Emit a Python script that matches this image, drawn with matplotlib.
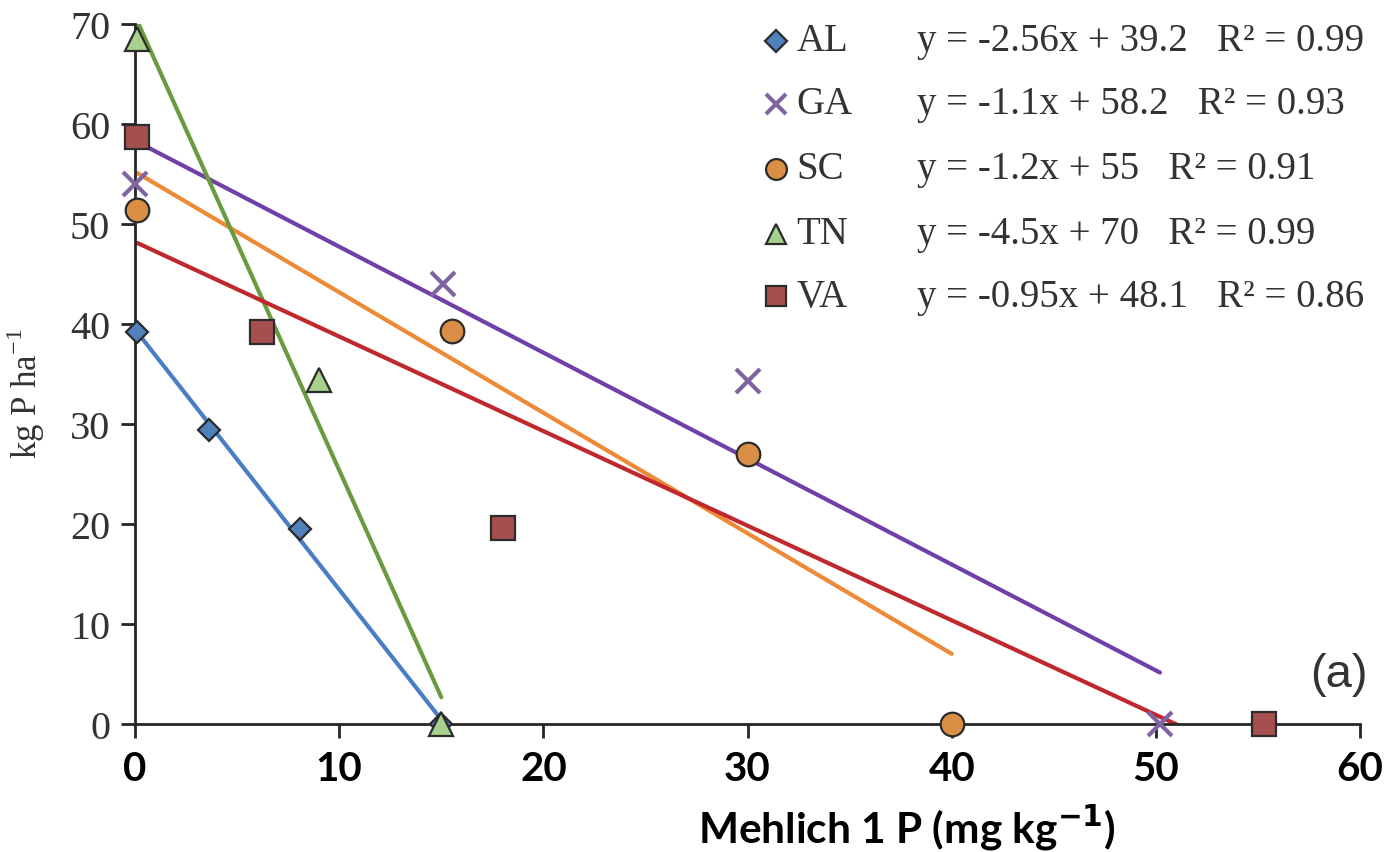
import numpy as np
import matplotlib
matplotlib.use("Agg")
import matplotlib.pyplot as plt

# ---- data ----
series = ["AL", "GA", "SC", "TN", "VA"]
al_x = [0.1, 3.6, 8.1, 15.0]
al_y = [39.2, 29.4, 19.5, 0.0]
ga_x = [0.0, 15.1, 30.0, 50.2]
ga_y = [54.0, 44.0, 34.3, 0.0]
sc_x = [0.1, 15.5, 30.0, 40.0]
sc_y = [51.4, 39.3, 27.0, 0.0]
tn_x = [0.1, 9.0, 15.0]
tn_y = [68.5, 34.4, 0.0]
va_x = [0.1, 6.2, 18.0, 55.3]
va_y = [58.7, 39.2, 19.6, 0.0]
equations = ["y = -2.56x + 39.2   R\u00b2 = 0.99",
             "y = -1.1x + 58.2   R\u00b2 = 0.93",
             "y = -1.2x + 55   R\u00b2 = 0.91",
             "y = -4.5x + 70   R\u00b2 = 0.99",
             "y = -0.95x + 48.1   R\u00b2 = 0.86"]
xticks = [0, 10, 20, 30, 40, 50, 60]
yticks = [0, 10, 20, 30, 40, 50, 60, 70]

xs = [al_x, ga_x, sc_x, tn_x, va_x]
ys = [al_y, ga_y, sc_y, tn_y, va_y]
markers = ["D", "x", "o", "^", "s"]
msizes = [11, 17, 17, 17, 17]
face = ["#4F81BD", "#8064A2", "#D98E45", "#A9D18E", "#A5504E"]
line_colors = ["#4A7EC4", "#7040A8", "#EE8A36", "#6B9A3F", "#C0282E"]

fig = plt.figure(figsize=(13.85, 8.53), dpi=100)
ax = fig.add_axes([0.0975, 0.150, 0.8845, 0.821])

serif = "Liberation Serif"
sans_bold = "Lato"
text_col = "#333333"

for i, name in enumerate(series):
    x = np.array(xs[i]); y = np.array(ys[i])
    k, b = np.polyfit(x, y, 1)
    xl = np.array([x.min(), x.max()])
    ax.plot(xl, k * xl + b, color=line_colors[i], lw=3, zorder=2,
            solid_capstyle="round")

for i, name in enumerate(series):
    if markers[i] == "x":
        ax.plot(xs[i], ys[i], ls="none", marker="x", ms=msizes[i],
                mew=3, color=face[i], zorder=4, clip_on=False)
    else:
        ax.plot(xs[i], ys[i], ls="none", marker=markers[i], ms=msizes[i],
                mfc=face[i], mec="#2b2b2b", mew=1.6, zorder=4, clip_on=False)

ax.set_xlim(0, 60)
ax.set_ylim(0, 70)
ax.set_xticks(xticks)
ax.set_yticks(yticks)
ax.set_xticklabels([str(t) for t in xticks], fontfamily=sans_bold,
                   fontweight="bold", fontsize=29)
ax.set_yticklabels([str(t) for t in yticks], fontfamily=serif,
                   fontsize=29, color=text_col)
for s in ["top", "right"]:
    ax.spines[s].set_visible(False)
for s in ["left", "bottom"]:
    ax.spines[s].set_linewidth(2)
    ax.spines[s].set_color("#262626")
ax.tick_params(axis="both", direction="out", length=10, width=2,
               color="#262626")
ax.tick_params(axis="x", pad=9)
ax.tick_params(axis="y", pad=8)

ax.set_xlabel("Mehlich 1 P (mg kg$^{\\mathbf{-1}}$)", fontfamily=sans_bold,
              fontweight="bold", fontsize=30.5, va="center")
ax.xaxis.set_label_coords(0.63, -0.148)
ax.set_ylabel("kg P ha$^{\\mathregular{-1}}$", fontfamily=serif,
              fontsize=25, color=text_col)
ax.yaxis.set_label_coords(-0.072, 0.474)

# legend
leg_y = [0.976, 0.886, 0.793, 0.700, 0.611]
for i, name in enumerate(series):
    ly = leg_y[i]
    if markers[i] == "x":
        ax.plot([0.523], [ly], transform=ax.transAxes, marker="x", ms=15,
                mew=3, color=face[i], ls="none", clip_on=False)
    else:
        ms = 11 if markers[i] == "D" else 15
        ax.plot([0.523], [ly], transform=ax.transAxes, marker=markers[i],
                ms=ms, mfc=face[i], mec="#2b2b2b", mew=1.6, ls="none",
                clip_on=False)
    ax.text(0.540, ly, name, transform=ax.transAxes, fontfamily=serif,
            fontsize=28, color=text_col, va="center", ha="left")
    ax.text(0.638, ly, equations[i], transform=ax.transAxes, fontfamily=serif,
            fontsize=28, color=text_col, va="center", ha="left")

ax.text(1.006, 0.072, "(a)", transform=ax.transAxes, fontfamily="Liberation Sans",
        fontsize=34, color="#333333", ha="right", va="center")

fig.savefig("out.png", dpi=100)
